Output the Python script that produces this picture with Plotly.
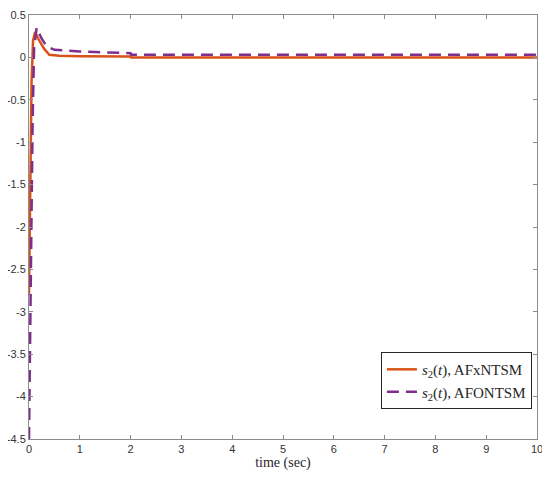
import plotly.graph_objects as go

# s2(t) sliding variable
t_afx = [0, 0.02, 0.05, 0.08, 0.12, 0.2, 0.3, 0.4, 0.6, 1.0, 2.0, 2.01, 10]
s_afx = [-2.8, -1.5, -0.3, 0.2, 0.3, 0.2, 0.1, 0.03, 0.02, 0.015, 0.01, 0.0, 0.0]

t_afo = [0, 0.03, 0.07, 0.1, 0.15, 0.25, 0.35, 0.5, 1.0, 2.0, 2.01, 10]
s_afo = [-4.5, -2.5, -0.8, 0.1, 0.35, 0.22, 0.13, 0.09, 0.07, 0.05, 0.03, 0.03]

x_ticks = list(range(0, 11))
y_ticks = [0.5, 0, -0.5, -1, -1.5, -2, -2.5, -3, -3.5, -4, -4.5]
y_text = ["0.5", "0", "-0.5", "-1", "-1.5", "-2", "-2.5", "-3", "-3.5", "-4", "-4.5"]

ORANGE = "#D95319"
PURPLE = "#7E2F8E"
SERIF = "Liberation Serif"

fig = go.Figure()
fig.add_trace(go.Scatter(
    x=t_afx, y=s_afx, mode="lines",
    name="<i>s</i><sub>2</sub>(<i>t</i>), AFxNTSM",
    line=dict(color=ORANGE, width=2.5),
))
fig.add_trace(go.Scatter(
    x=t_afo, y=s_afo, mode="lines",
    name="<i>s</i><sub>2</sub>(<i>t</i>), AFONTSM",
    line=dict(color=PURPLE, width=2.5, dash="12px,7px"),
))

axis_common = dict(
    showline=True, mirror="ticks", linecolor="#8c8c8c", linewidth=1,
    ticks="inside", ticklen=4, tickcolor="#8c8c8c",
    showgrid=False, zeroline=False, automargin=False,
    tickfont=dict(family="Liberation Sans", size=11, color="#333333"),
)

# the page body adds an 8px offset, so margins are shifted to compensate
fig.update_layout(
    width=550, height=478,
    margin=dict(l=21, r=21, t=7, b=47),
    paper_bgcolor="white", plot_bgcolor="white",
    showlegend=True,
    legend=dict(
        x=0.99, y=0.205, xanchor="right", yanchor="top",
        bgcolor="white", bordercolor="#262626", borderwidth=1,
        font=dict(family=SERIF, size=15, color="#262626"),
        tracegroupgap=0, itemwidth=30,
    ),
)
fig.update_xaxes(
    range=[0, 10], tickvals=x_ticks,
    title=dict(text="time (sec)", font=dict(family=SERIF, size=14, color="#262626"),
               standoff=0),
    **axis_common,
)
fig.update_yaxes(range=[-4.5, 0.5], tickvals=y_ticks, ticktext=y_text, **axis_common)

fig.write_html("out.html")
